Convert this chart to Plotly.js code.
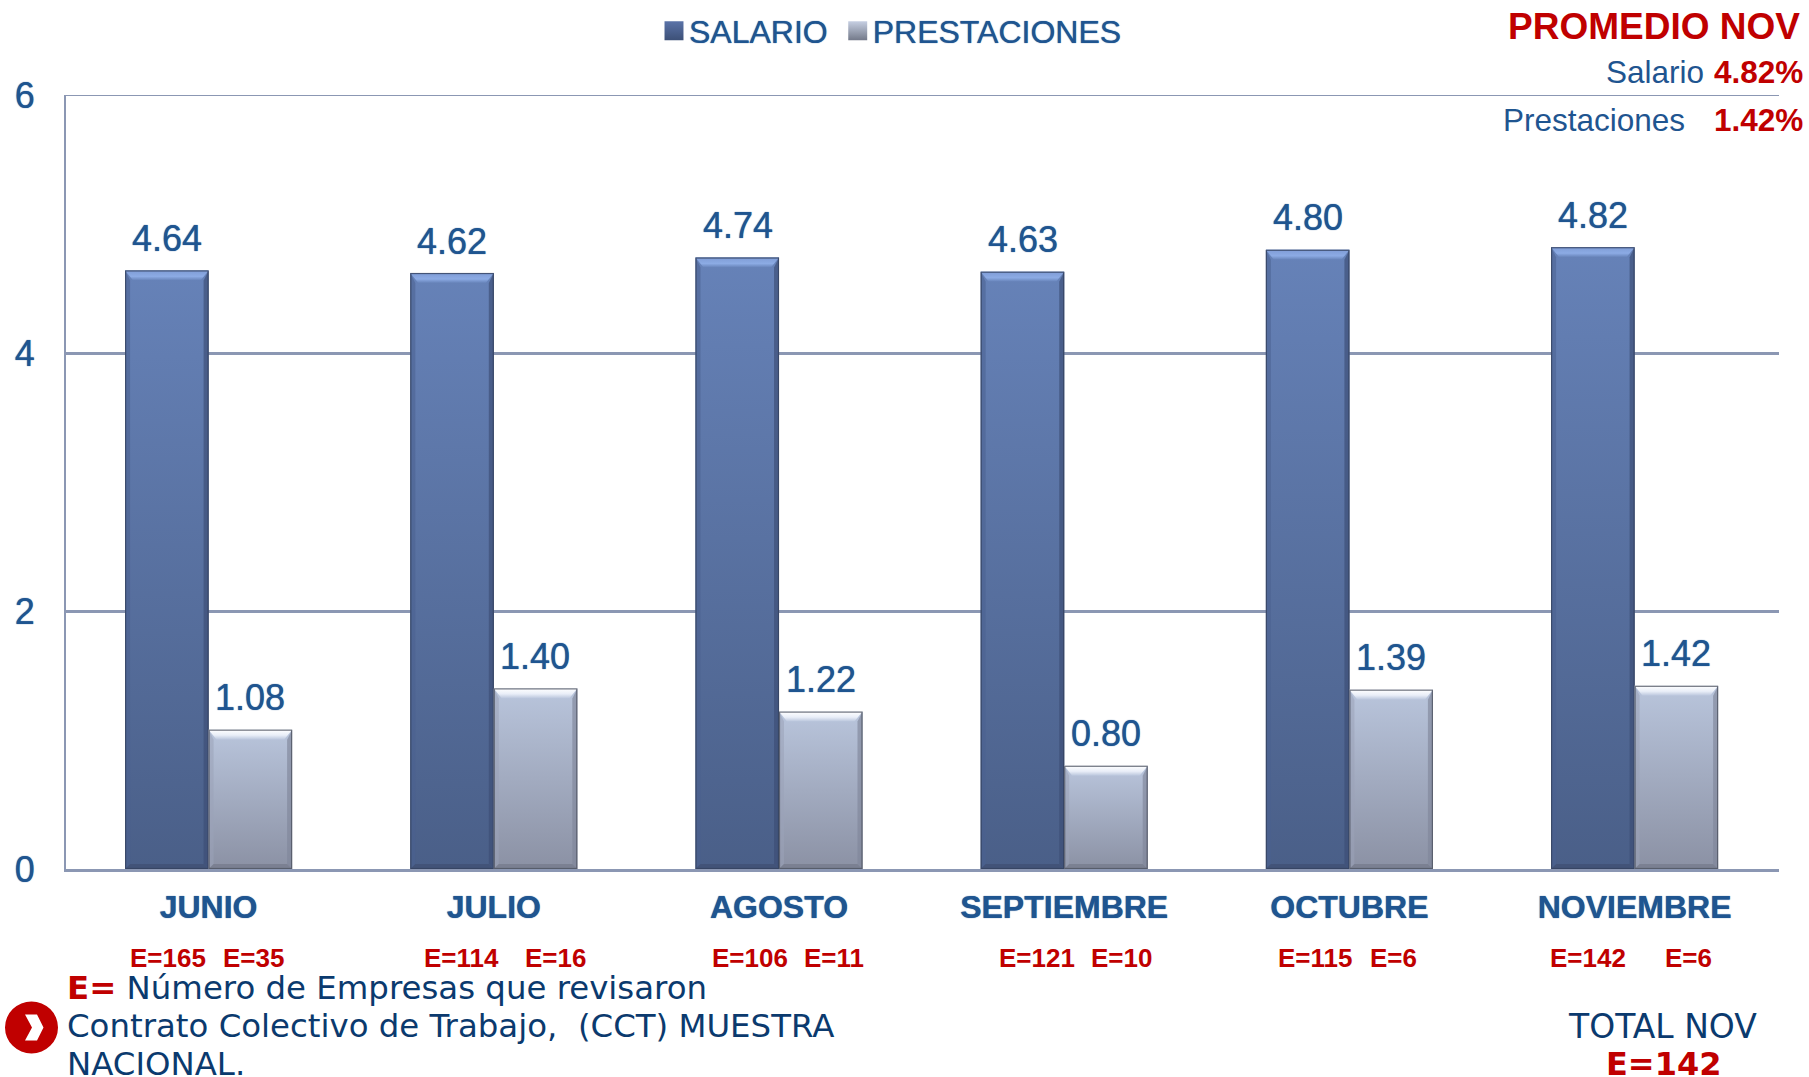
<!DOCTYPE html>
<html><head><meta charset="utf-8">
<script src="https://cdn.plot.ly/plotly-3.0.1.min.js"></script>
<style>html,body{margin:0;padding:0;background:#fff;overflow:hidden}#c{width:1809px;height:1077px}</style>
</head><body><div id="c"></div>
<script>
const categories = ['JUNIO','JULIO','AGOSTO','SEPTIEMBRE','OCTUBRE','NOVIEMBRE'];
const salario = [4.64,4.62,4.74,4.63,4.80,4.82];
const prestaciones = [1.08,1.40,1.22,0.80,1.39,1.42];
const empresasSalario = ['E=165','E=114','E=106','E=121','E=115','E=142'];
const empresasPrest = ['E=35','E=16','E=11','E=10','E=6','E=6'];
const empSalX = [129,423,711,998,1277,1549];
const empPreX = [222,524,803,1090,1369,1664];

const W=1809,H=1077,L=66,R=1779,T=95.4,B=869.5;
const px=x=>(x-L)/(R-L), py=y=>(B-y)/(B-T);
const BLUE='#1f5590', RED='#c00000', NAVY='#0b3a6e', GRID='#8b97b3';
const SANS='"Liberation Sans",Arial,sans-serif', VERD='"DejaVu Sans",Verdana,sans-serif';
const BARW=83.5, BAND=285.2;
const GLOW='0 0 1px #1f5590';

const note=(text,x,y,size,color,anchor,family,bold)=>({text:bold?'<b>'+text+'</b>':text,xref:'paper',yref:'paper',
  x:px(x),y:py(y),xanchor:anchor,yanchor:'middle',showarrow:false,align:anchor,
  font:{size,color,family},borderpad:0});

const annotations=[];
categories.forEach((c,i)=>{
  annotations.push({x:c,y:salario[i],xref:'x',yref:'y',xshift:-41.5,yshift:9.5,yanchor:'bottom',showarrow:false,text:salario[i].toFixed(2),font:{size:36,color:BLUE,family:SANS,shadow:GLOW}});
  annotations.push({x:c,y:prestaciones[i],xref:'x',yref:'y',xshift:41.5,yshift:9.5,yanchor:'bottom',showarrow:false,text:prestaciones[i].toFixed(2),font:{size:36,color:BLUE,family:SANS,shadow:GLOW}});
  annotations.push(note(empresasSalario[i],empSalX[i],959,26,RED,'left',SANS,true));
  annotations.push(note(empresasPrest[i],empPreX[i],959,26,RED,'left',SANS,true));
});
annotations.push(
  note('PROMEDIO NOV',1801,27,37,RED,'right',SANS,true),
  note('Salario',1705,72,31.5,BLUE,'right',SANS,false),
  note('4.82%',1804,72,31.5,RED,'right',SANS,true),
  note('Prestaciones',1686,120,31.5,BLUE,'right',SANS,false),
  note('1.42%',1804,120,31.5,RED,'right',SANS,true),
  note('<b><span style="color:#c00000">E=</span></b> Número de Empresas que revisaron',66,989,32.4,NAVY,'left',VERD,false),
  note('Contrato Colectivo de Trabajo,  (CCT) MUESTRA',66,1027,32.4,NAVY,'left',VERD,false),
  note('NACIONAL.',66,1065,32.4,NAVY,'left',VERD,false),
  note('TOTAL NOV',1662,1027,33,NAVY,'center',VERD,false),
  note('E=142',1663,1065,32,RED,'center',VERD,true)
);

const shapes=[
 {type:'line',xref:'paper',yref:'y',x0:0,x1:1,y0:6,y1:6,line:{color:GRID,width:2},layer:'below'},
 {type:'circle',xref:'paper',yref:'paper',x0:px(5),x1:px(58),y0:py(1054),y1:py(1002),fillcolor:RED,line:{width:0}},
 {type:'path',xref:'paper',yref:'paper',fillcolor:'#fff',line:{width:0},
  path:'M'+[[25,1015],[37,1015],[43.5,1028],[37,1041],[25,1041],[32,1028]].map(p=>px(p[0])+','+py(p[1])).join('L')+'Z'}
];

const data=[
 {type:'bar',name:'SALARIO',x:categories,y:salario,marker:{color:'#5a76a8'},hoverinfo:'x+y'},
 {type:'bar',name:'PRESTACIONES',x:categories,y:prestaciones,marker:{color:'#a5afc6'},hoverinfo:'x+y'}
];
const layout={
 width:W,height:H,margin:{l:L,r:W-R,t:T,b:H-B,pad:0},paper_bgcolor:'#fff',plot_bgcolor:'#fff',
 barmode:'group',bargap:1-2*BARW/BAND,bargroupgap:0,showlegend:true,
 legend:{orientation:'h',xref:'container',yref:'container',x:649/W,y:1-31/H,xanchor:'left',yanchor:'middle',font:{size:32,color:BLUE,family:SANS,shadow:GLOW},itemclick:false,itemdoubleclick:false,bgcolor:'rgba(0,0,0,0)',tracegroupgap:0},
 xaxis:{type:'category',range:[-0.5,-0.5+(R-L)/BAND],tickmode:'array',tickvals:categories,ticktext:categories.map(c=>'<b>'+c+'</b>'),
   tickfont:{size:32,color:BLUE,family:SANS,shadow:GLOW},showgrid:false,showline:true,linecolor:GRID,linewidth:3,
   ticks:'outside',ticklen:8,tickcolor:'rgba(0,0,0,0)',zeroline:false,fixedrange:true},
 yaxis:{range:[0,6],tickvals:[0,2,4,6],ticktext:['0','2','4','6'],tickfont:{size:36,color:BLUE,family:SANS,shadow:GLOW},
   showgrid:true,gridcolor:GRID,gridwidth:3,showline:true,linecolor:GRID,linewidth:2,
   ticks:'outside',ticklen:22,tickcolor:'rgba(0,0,0,0)',zeroline:false,fixedrange:true},
 annotations,shapes
};

const NS='http://www.w3.org/2000/svg';
function el(n,a,parent){const e=document.createElementNS(NS,n);for(const k in a)e.setAttribute(k,a[k]);if(parent)parent.appendChild(e);return e;}
Plotly.newPlot('c',data,layout,{displayModeBar:false,responsive:false,staticPlot:true}).then(gd=>{
  const svg=gd.querySelector('svg.main-svg');
  const defs=el('defs',{},svg);
  const grad=(id,stops)=>{const g=el('linearGradient',{id,x1:0,y1:0,x2:0,y2:1},defs);
    stops.forEach(s=>el('stop',{offset:s[0],'stop-color':s[1]},g));};
  grad('gS',[['0%','#6682b8'],['100%','#4a5f88']]);grad('gP',[['0%','#b9c5dc'],['100%','#8b91a4']]);
  grad('lS',[['0%','#5a73a8'],['100%','#3d5077']]);grad('lP',[['0%','#c6cfe2'],['100%','#737989']]);
  grad('tS',[['0%','#7f9cd6'],['60%','#8cabe4'],['100%','#6682b8']]);
  grad('tP',[['0%','#ffffff'],['55%','#e9eef8'],['100%','#b9c5dc']]);
  const themes=[{f:'url(#gS)',top:'url(#tS)',side:'#4a6190',sideR:'#3c4d75',bot:'#3f4f72',edge:'#34425f'},
                {f:'url(#gP)',top:'url(#tP)',side:'#9aa3b8',sideR:'#80869a',bot:'#73798a',edge:'#4f5462'}];
  gd.querySelectorAll('.barlayer .trace').forEach((tr,ti)=>{
    const t=themes[ti];
    tr.querySelectorAll('.point').forEach(pt=>{
      const p=pt.querySelector('path');
      p.style.fill=t.f;
      const b=p.getBBox(),x0=b.x,x1=b.x+b.width,y0=b.y,y1=b.y+b.height,s=5,st=10;
      const poly=(pts,fill,op)=>el('polygon',{points:pts.map(q=>q.join(',')).join(' '),fill,'fill-opacity':op},pt);
      poly([[x0,y0],[x0+s,y0+st],[x0+s,y1-s],[x0,y1]],t.side,.55);
      poly([[x1,y0],[x1-s,y0+st],[x1-s,y1-s],[x1,y1]],t.sideR,.65);
      poly([[x0,y1],[x0+s,y1-s],[x1-s,y1-s],[x1,y1]],t.bot,.7);
      poly([[x0,y0],[x1,y0],[x1-s-3,y0+st],[x0+s+3,y0+st]],t.top,1);
      el('rect',{x:x0+.5,y:y0+.5,width:b.width-1,height:b.height-1,fill:'none',stroke:t.edge,'stroke-width':1.2,'stroke-opacity':.8},pt);
    });
  });
  gd.querySelectorAll('.legend .legendpoints path').forEach((p,i)=>{
    p.style.fill=i==0?'url(#lS)':'url(#lP)';
    p.style.stroke='none';
    const cur=p.getAttribute('transform')||'';
    p.setAttribute('transform',cur+' translate(5,0) scale(1.58)');
  });
});
</script></body></html>
